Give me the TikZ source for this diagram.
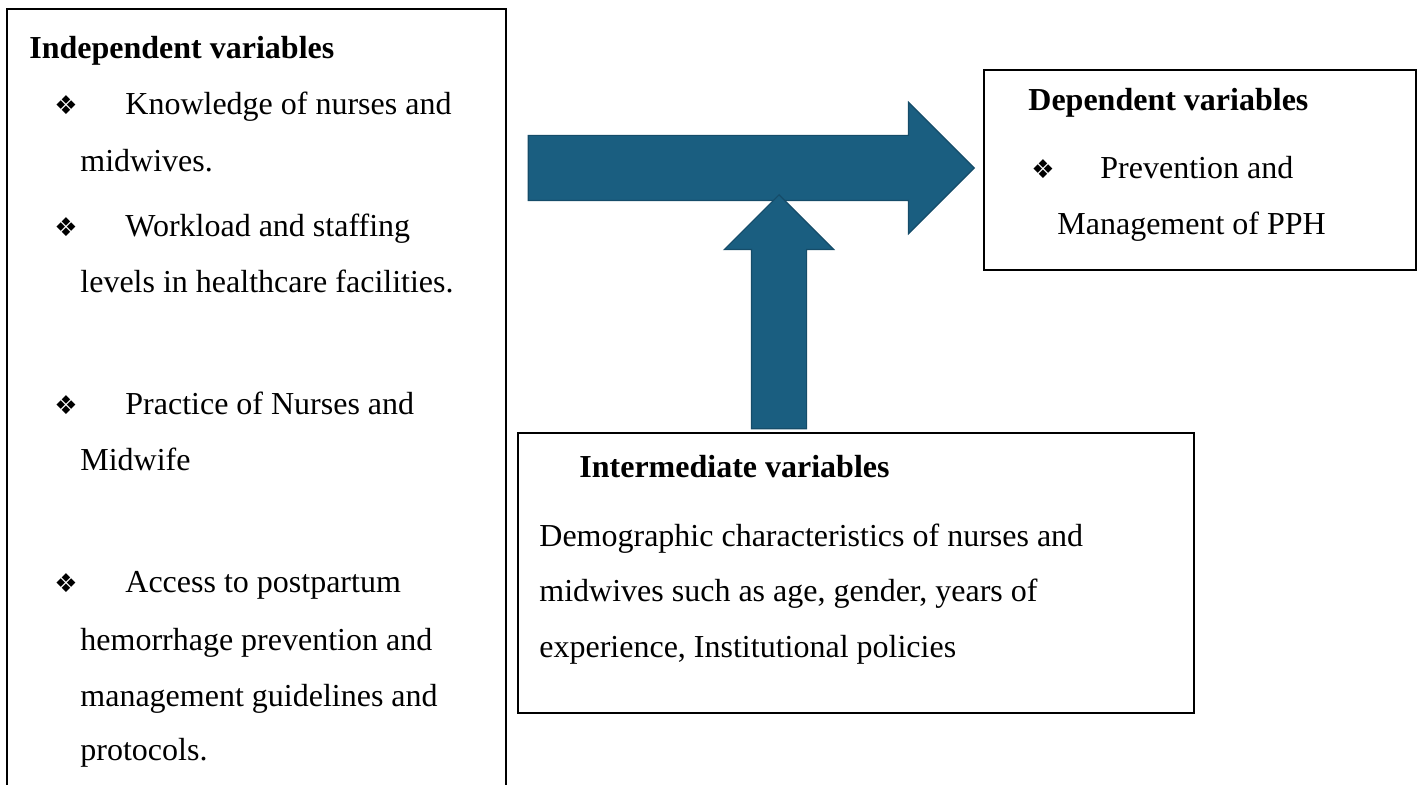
\documentclass[tikz,border=0pt]{standalone}
\usepackage{fontspec}
\setmainfont{Liberation Serif}
\newfontfamily\dingfont{DejaVu Sans}
\usetikzlibrary{shapes.arrows}

\definecolor{arrowfill}{HTML}{1A5E80}
\definecolor{arrowline}{HTML}{154C69}

\tikzstyle{varbox} = [rectangle, draw=black, line width=1.2pt, inner sep=0pt, anchor=north west]
\tikzstyle{txt} = [anchor=base west, inner sep=0pt, font=\fontsize{16}{16}\selectfont]
\tikzstyle{headtxt} = [txt, font=\fontsize{16}{16}\selectfont\bfseries]
\tikzstyle{bul} = [anchor=base west, inner sep=0pt, font=\dingfont\fontsize{13}{13}\selectfont]
\tikzstyle{blockarrow} = [single arrow, draw=arrowline, fill=arrowfill, line width=0.6pt, inner xsep=0pt, single arrow head indent=0pt, anchor=tip]

\begin{document}
\begin{tikzpicture}[x=0.5pt, y=-0.5pt]

\useasboundingbox (0,0) rectangle (1424,785);
\clip (0,0) rectangle (1424,785);

% boxes
\node (indep) [varbox, minimum width=249.5pt, minimum height=400pt] at (6,8) {};
\node (dep) [varbox, minimum width=216pt, minimum height=100pt] at (983,69) {};
\node (inter) [varbox, minimum width=338pt, minimum height=140pt] at (517,432) {};

% block arrows
\node (harrow) [blockarrow, minimum height=223pt, inner ysep=16pt, single arrow head extend=16.5pt] at (975,168) {};
\node (varrow) [blockarrow, rotate=90, minimum height=117pt, inner ysep=13.5pt, single arrow head extend=13.5pt] at (779,194) {};

% independent variables
\node (indephead) [headtxt] at (29,59) {Independent variables};
\node (bul1) [bul] at (54,115) {❖};
\node (know1) [txt] at (125,115) {Knowledge of nurses and};
\node (know2) [txt] at (80,172) {midwives.};
\node (bul2) [bul] at (54,237) {❖};
\node (work1) [txt] at (125,237) {Workload and staffing};
\node (work2) [txt] at (80,293) {levels in healthcare facilities.};
\node (bul3) [bul] at (54,415) {❖};
\node (prac1) [txt] at (125,415) {Practice of Nurses and};
\node (prac2) [txt] at (80,471) {Midwife};
\node (bul4) [bul] at (54,593) {❖};
\node (acc1) [txt] at (125,593) {Access to postpartum};
\node (acc2) [txt] at (80,650) {hemorrhage prevention and};
\node (acc3) [txt] at (80,706) {management guidelines and};
\node (acc4) [txt] at (80,760) {protocols.};

% dependent variables
\node (dephead) [headtxt] at (1028,111) {Dependent variables};
\node (bul5) [bul] at (1031,179) {❖};
\node (prev1) [txt] at (1100,179) {Prevention and};
\node (prev2) [txt] at (1057,235) {Management of PPH};

% intermediate variables
\node (interhead) [headtxt] at (579,478) {Intermediate variables};
\node (demo1) [txt] at (539,547) {Demographic characteristics of nurses and};
\node (demo2) [txt] at (539,602) {midwives such as age, gender, years of};
\node (demo3) [txt] at (539,657) {experience, Institutional policies};

\end{tikzpicture}
\end{document}
